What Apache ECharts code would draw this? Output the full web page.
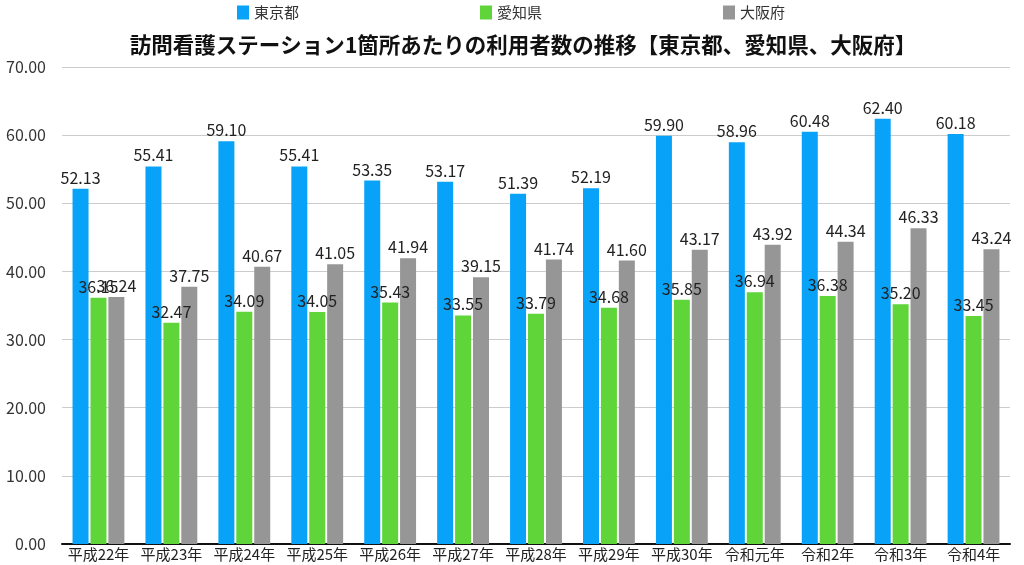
<!DOCTYPE html>
<html><head><meta charset="utf-8">
<script src="https://cdn.jsdelivr.net/npm/echarts@6/dist/echarts.min.js"></script>
<style>html,body{margin:0;padding:0;background:#fff}#c{width:1024px;height:565px}</style>
</head><body><div id="c"></div>
<script>
const categories = ['平成22年','平成23年','平成24年','平成25年','平成26年','平成27年','平成28年','平成29年','平成30年','令和元年','令和2年','令和3年','令和4年'];
const tokyo = [52.13,55.41,59.10,55.41,53.35,53.17,51.39,52.19,59.90,58.96,60.48,62.40,60.18];
const aichi = [36.15,32.47,34.09,34.05,35.43,33.55,33.79,34.68,35.85,36.94,36.38,35.20,33.45];
const osaka = [36.24,37.75,40.67,41.05,41.94,39.15,41.74,41.60,43.17,43.92,44.34,46.33,43.24];
const seriesNames = ['東京都','愛知県','大阪府'];
const colors = ['#08a2f8','#5fd53a','#969696'];
const font = '"Noto Sans CJK JP", "Noto Sans", sans-serif';
const chart = echarts.init(document.getElementById('c'));
const mk = (name, data, color) => ({
  name, type: 'bar', data, barWidth: 16, barGap: '12%',
  itemStyle: { color },
  label: { show: true, position: 'top', distance: 3, formatter: p => p.value.toFixed(2),
    color: '#222', fontSize: 16, fontFamily: font }
});
chart.setOption({
  animation: false,
  textStyle: { fontFamily: font },
  title: { text: '訪問看護ステーション1箇所あたりの利用者数の推移【東京都、愛知県、大阪府】',
    left: 518, textAlign: 'center', top: 29,
    textStyle: { fontSize: 21.5, fontWeight: 'bold', color: '#111', fontFamily: font } },
  legend: { data: seriesNames, top: 0, left: 232, itemGap: 181, itemWidth: 12, itemHeight: 14,
    icon: 'rect', textStyle: { fontSize: 15, color: '#333', fontFamily: font } },
  grid: { left: 62, right: 14, top: 67, bottom: 21 },
  xAxis: { type: 'category', data: categories,
    axisLine: { lineStyle: { color: '#111', width: 2 } }, axisTick: { show: false },
    axisLabel: { color: '#222', fontSize: 15, margin: 3, interval: 0, fontFamily: font } },
  yAxis: { type: 'value', min: 0, max: 70, interval: 10,
    axisLabel: { formatter: v => v.toFixed(2), color: '#333', fontSize: 16, margin: 16, fontFamily: font },
    splitLine: { lineStyle: { color: '#cccccc' } } },
  series: [mk(seriesNames[0], tokyo, colors[0]), mk(seriesNames[1], aichi, colors[1]), mk(seriesNames[2], osaka, colors[2])]
});
</script></body></html>
